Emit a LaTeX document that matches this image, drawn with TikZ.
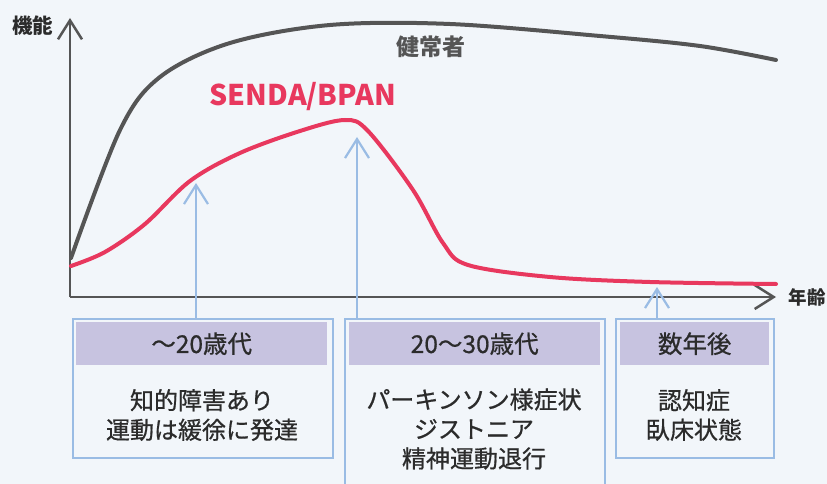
\documentclass[tikz,border=0pt]{standalone}
\usepackage{fontspec}
\setmainfont{Noto Sans CJK JP}
\newfontfamily\medfont[FakeBold=0.7]{Noto Sans CJK JP}
\usetikzlibrary{arrows.meta}
\definecolor{bg}{HTML}{F2F6FA}
\definecolor{axisgray}{HTML}{555555}
\definecolor{healthy}{HTML}{555555}
\definecolor{senda}{HTML}{E8385E}
\definecolor{bluel}{HTML}{9ABCE4}
\definecolor{lav}{HTML}{C7C3E0}
\definecolor{txt}{HTML}{2B2B2B}
\tikzset{
  axisline/.style={draw=axisgray, line width=2.5pt, -{Straight Barb[length=19pt,width=24pt,line width=2.5pt]}},
  blarrow/.style={draw=bluel, line width=2.2pt, -{Straight Barb[length=19pt,width=24pt,line width=2.2pt]}},
  boxframe/.style={draw=bluel, line width=2.2pt, fill=bg, anchor=north west, inner sep=0pt},
  header/.style={fill=lav, anchor=north west, inner sep=0pt, minimum height=43pt},
  headtext/.style={text=txt, font=\medfont\fontsize{24.5}{28}\selectfont},
  bodytext/.style={text=txt, align=center, font=\medfont\fontsize{24}{29.5}\selectfont},
  axlabel/.style={text=txt, font=\bfseries},
}
\begin{document}
\begin{tikzpicture}[x=1pt,y=-1pt]
\useasboundingbox[fill=bg] (0,0) rectangle (827,484);
% axes
\coordinate (O) at (70,297);
\coordinate (ytip) at (70,18);
\coordinate (xtip) at (776,297);
\draw[axisline] (O) -- (ytip);
\draw[axisline] (O) -- (xtip);
\node[axlabel, font=\fontsize{20.5}{22}\selectfont\bfseries] (ylab) at (33,26) {機能};
\node[axlabel, anchor=west, font=\fontsize{18.5}{20}\selectfont\bfseries] (xlab) at (785,297) {年齢};
% healthy curve
\draw[healthy, line width=4pt, line cap=round] plot[smooth, tension=0.55] coordinates {
 (71,258) (120,130) (160,77) (230,43) (330,25) (450,24) (600,36) (700,46) (776,60)};
\node[text=healthy, font=\fontsize{23}{26}\selectfont\bfseries] (hlab) at (431,47) {健常者};
% SENDA curve
\draw[senda, line width=4pt, line cap=round] plot[smooth, tension=0.55] coordinates {
 (71,266) (105,252) (145,224) (190,181) (240,153) (300,131) (345,120) (368,131) (413,190) (443,243) (468,265) (550,277) (650,282) (776,284)};
\node[text=senda, font=\fontsize{28.5}{30}\selectfont\bfseries] (slab) at (303,97) {SENDA/BPAN};
% boxes
\node[boxframe, minimum width=260pt, minimum height=139pt] (b1) at (72,318) {};
\node[boxframe, minimum width=260pt, minimum height=180pt] (b2) at (344,318) {};
\node[boxframe, minimum width=158pt, minimum height=139pt] (b3) at (615,318) {};
\node[header, minimum width=251pt] (h1) at (76,322) {};
\node[header, minimum width=251pt] (h2) at (349,322) {};
\node[header, minimum width=149pt] (h3) at (620,322) {};
\node[headtext] at (h1.center) {～20歳代};
\node[headtext] at (h2.center) {20～30歳代};
\node[headtext] at (h3.center) {数年後};
\node[bodytext] (t1) at (202,415) {知的障害あり\\運動は緩徐に発達};
\node[bodytext] (t2) at (474,429) {パーキンソン様症状\\ジストニア\\精神運動退行};
\node[bodytext] (t3) at (694,415) {認知症\\臥床状態};
% arrows
\coordinate (a1) at (196,183);
\coordinate (a2) at (357,137);
\coordinate (a3) at (657,287);
\draw[blarrow] (a1 |- b1.north) -- (a1);
\draw[blarrow] (a2 |- b2.north) -- (a2);
\draw[blarrow] (a3 |- b3.north) -- (a3);
\end{tikzpicture}
\end{document}
